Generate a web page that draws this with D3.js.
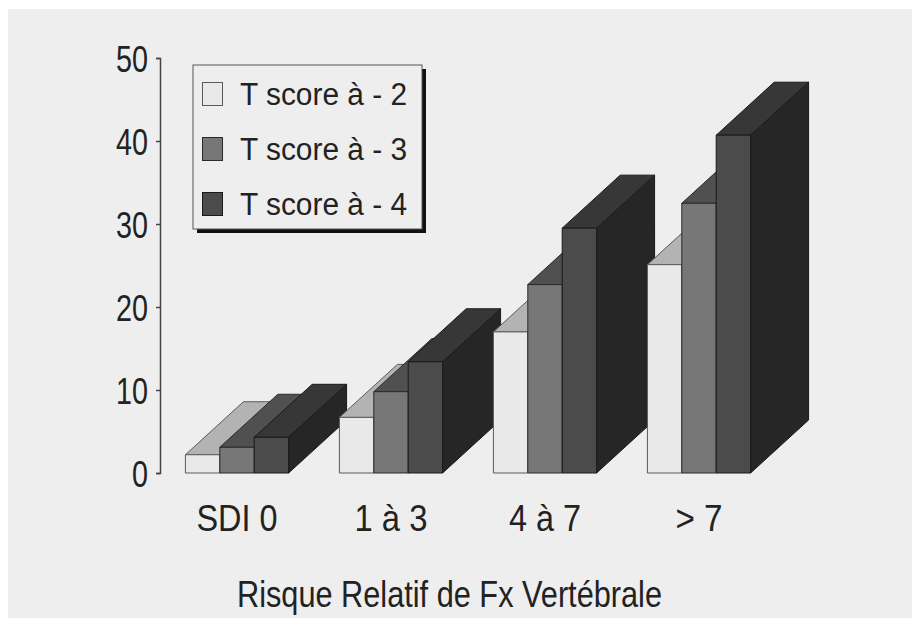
<!DOCTYPE html>
<html>
<head>
<meta charset="utf-8">
<script src="https://cdn.jsdelivr.net/npm/d3@7"></script>
<style>
  body { margin: 0; background: #fff; }
  text { font-family: "Liberation Sans", Arial, sans-serif; fill: #222; }
</style>
</head>
<body>
<script>
// data
const categories = ['SDI 0', '1 à 3', '4 à 7', '> 7'];
const seriesNames = ['T score à - 2', 'T score à - 3', 'T score à - 4'];
const tScore2 = [2.2, 6.7, 17.0, 25.1];
const tScore3 = [3.1, 9.8, 22.7, 32.5];
const tScore4 = [4.3, 13.4, 29.5, 40.7];
const yTicks = [0, 10, 20, 30, 40, 50];
const xTitle = 'Risque Relatif de Fx Vertébrale';

const series = [tScore2, tScore3, tScore4];

// face colours per series: front, top, side
const faces = [
    { front: '#e9e9e9', top: '#b3b3b3', side: '#9a9a9a', stroke: '#5a5a5a' },
    { front: '#777777', top: '#505050', side: '#444444', stroke: '#2a2a2a' },
    { front: '#4b4b4b', top: '#373737', side: '#262626', stroke: '#1a1a1a' }
];

const width = 912, height = 618;
const depthX = 58, depthY = -53;

const svg = d3.select('body').append('svg')
    .attr('width', width)
    .attr('height', height);

// panel
svg.append('rect')
    .attr('x', 8).attr('y', 9)
    .attr('width', width - 8).attr('height', height - 9)
    .attr('fill', '#eeeeee');

const x = d3.scaleBand()
    .domain(categories)
    .range([160, 776])
    .paddingInner(0.33)
    .paddingOuter(0.165);

const xSub = d3.scaleBand()
    .domain(d3.range(series.length))
    .range([0, x.bandwidth()]);

const y = d3.scaleLinear()
    .domain([0, 50])
    .range([473, 58]);

// Y-axis
const yAxis = svg.append('g')
    .attr('transform', 'translate(160,0)')
    .call(d3.axisLeft(y).tickValues(yTicks).tickSize(4).tickSizeOuter(4).tickPadding(8));
yAxis.select('.domain').attr('stroke', '#444').attr('stroke-width', 1.5);
yAxis.selectAll('.tick line').attr('stroke', '#444').attr('stroke-width', 1.5);
yAxis.selectAll('.tick text')
    .attr('font-size', 37)
    .attr('font-family', '"Liberation Sans", Arial, sans-serif')
    .attr('fill', '#222')
    .attr('dy', '0.36em')
    .attr('textLength', d => String(d).length * 16)
    .attr('lengthAdjust', 'spacingAndGlyphs');

// 3D bars, painted left to right
const bars = [];
categories.forEach((c, ci) => {
    series.forEach((s, si) => {
        bars.push({ cat: c, si: si, value: s[ci] });
    });
});

const barG = svg.append('g');
bars.forEach(d => {
    const x0 = x(d.cat) + xSub(d.si);
    const x1 = x0 + xSub.bandwidth();
    const y0 = y(0);
    const y1 = y(d.value);
    const f = faces[d.si];
    const g = barG.append('g')
        .attr('stroke', f.stroke)
        .attr('stroke-width', 1)
        .attr('stroke-linejoin', 'round');
    // side
    g.append('path')
        .attr('d', `M${x1},${y0}L${x1 + depthX},${y0 + depthY}L${x1 + depthX},${y1 + depthY}L${x1},${y1}Z`)
        .attr('fill', f.side);
    // top
    g.append('path')
        .attr('d', `M${x0},${y1}L${x0 + depthX},${y1 + depthY}L${x1 + depthX},${y1 + depthY}L${x1},${y1}Z`)
        .attr('fill', f.top);
    // front
    g.append('rect')
        .attr('x', x0).attr('y', y1)
        .attr('width', x1 - x0).attr('height', y0 - y1)
        .attr('fill', f.front);
});

// category labels
const catWidths = { 'SDI 0': 81, '1 à 3': 73, '4 à 7': 72, '> 7': 47 };
svg.append('g').selectAll('text')
    .data(categories)
    .join('text')
    .attr('x', d => x(d) + x.bandwidth() / 2)
    .attr('y', 531)
    .attr('text-anchor', 'middle')
    .attr('font-size', 36)
    .attr('textLength', d => catWidths[d])
    .attr('lengthAdjust', 'spacingAndGlyphs')
    .text(d => d);

// x title
svg.append('text')
    .attr('x', 449.5)
    .attr('y', 607)
    .attr('text-anchor', 'middle')
    .attr('font-size', 37)
    .attr('textLength', 425)
    .attr('lengthAdjust', 'spacingAndGlyphs')
    .text(xTitle);

// legend
const legend = svg.append('g').attr('transform', 'translate(193,65)');
legend.append('rect')
    .attr('x', 4).attr('y', 4)
    .attr('width', 229).attr('height', 164)
    .attr('fill', '#111');
legend.append('rect')
    .attr('x', 0).attr('y', 0)
    .attr('width', 229).attr('height', 164)
    .attr('fill', '#eeeeee')
    .attr('stroke', '#555')
    .attr('stroke-width', 1);

const items = legend.selectAll('.item')
    .data(seriesNames)
    .join('g')
    .attr('transform', (d, i) => `translate(0,${i * 55})`);
items.append('rect')
    .attr('x', 9.5).attr('y', 17.5)
    .attr('width', 20).attr('height', 23)
    .attr('fill', (d, i) => faces[i].front)
    .attr('stroke', (d, i) => faces[i].stroke)
    .attr('stroke-width', 1);
items.append('text')
    .attr('x', 47)
    .attr('y', 40)
    .attr('font-size', 31)
    .attr('textLength', 167)
    .attr('lengthAdjust', 'spacingAndGlyphs')
    .text(d => d);
</script>
</body>
</html>
